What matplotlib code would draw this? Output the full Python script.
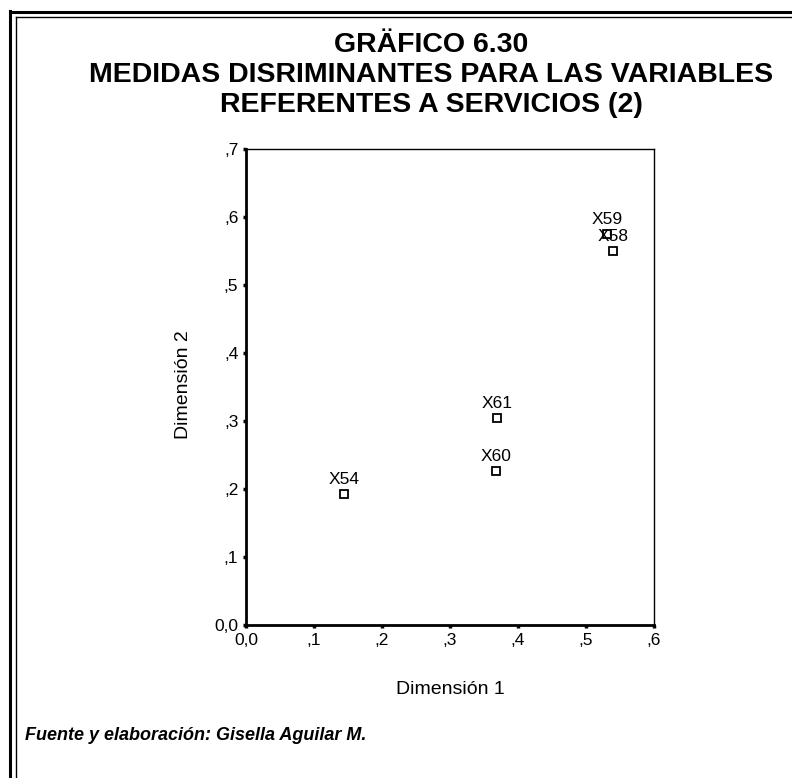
import matplotlib.pyplot as plt
from matplotlib.lines import Line2D

# discriminant measures
labels = ["X54", "X60", "X61", "X59", "X58"]
dim1 = [0.144, 0.368, 0.369, 0.531, 0.540]
dim2 = [0.193, 0.226, 0.304, 0.575, 0.550]

xticks = [0.0, 0.1, 0.2, 0.3, 0.4, 0.5, 0.6]
xticklabels = ["0,0", ",1", ",2", ",3", ",4", ",5", ",6"]
yticks = [0.0, 0.1, 0.2, 0.3, 0.4, 0.5, 0.6, 0.7]
yticklabels = ["0,0", ",1", ",2", ",3", ",4", ",5", ",6", ",7"]

plt.rcParams['font.family'] = ['Liberation Sans', 'DejaVu Sans']

W, H = 792, 778
fig = plt.figure(figsize=(W / 100, H / 100), dpi=100)

# axes box in pixels: left 246, right 654, top 149, bottom 625
ax = fig.add_axes([246 / W, 1 - 625 / H, (654 - 246) / W, (625 - 149) / H])
ax.plot(dim1, dim2, ls='none', marker='s', ms=5.5, mfc='white', mec='black', mew=1.3)
for lab, x, y in zip(labels, dim1, dim2):
    ax.annotate(lab, (x, y), xytext=(0, 5), textcoords='offset points',
                ha='center', va='bottom', fontsize=12.5)

ax.set_xlim(0, 0.6)
ax.set_ylim(0, 0.7)
ax.set_xticks(xticks)
ax.set_xticklabels(xticklabels)
ax.set_yticks(yticks)
ax.set_yticklabels(yticklabels)
ax.tick_params(direction='out', length=2.5, width=2.5, labelsize=12.5, pad=3)
ax.spines['left'].set_linewidth(2)
ax.spines['bottom'].set_linewidth(2)
ax.spines['top'].set_linewidth(1)
ax.spines['right'].set_linewidth(1)

fig.text(450 / W, 1 - 690 / H, "Dimensión 1", ha='center', va='center', fontsize=14)
fig.text(183 / W, 1 - 385 / H, "Dimensión 2", ha='center', va='center', fontsize=14,
         rotation=90)

title = "GRÄFICO 6.30\nMEDIDAS DISRIMINANTES PARA LAS VARIABLES\nREFERENTES A SERVICIOS (2)"
fig.text(431 / W, 1 - 75 / H, title, ha='center', va='center', fontsize=20.5,
         fontweight='bold', linespacing=1.21)

fig.text(25 / W, 1 - 735 / H, "Fuente y elaboración: Gisella Aguilar M.",
         ha='left', va='center', fontsize=13, fontweight='bold', style='italic')

# double frame on top and left
fig.add_artist(Line2D([10 / W, 1], [1 - 12 / H, 1 - 12 / H], color='black', lw=2.2))
fig.add_artist(Line2D([15.5 / W, 1], [1 - 17 / H, 1 - 17 / H], color='black', lw=1))
fig.add_artist(Line2D([10 / W, 10 / W], [0, 1 - 11 / H], color='black', lw=2.2))
fig.add_artist(Line2D([15.5 / W, 15.5 / W], [0, 1 - 17 / H], color='black', lw=1))

fig.savefig("out.png", dpi=100)
